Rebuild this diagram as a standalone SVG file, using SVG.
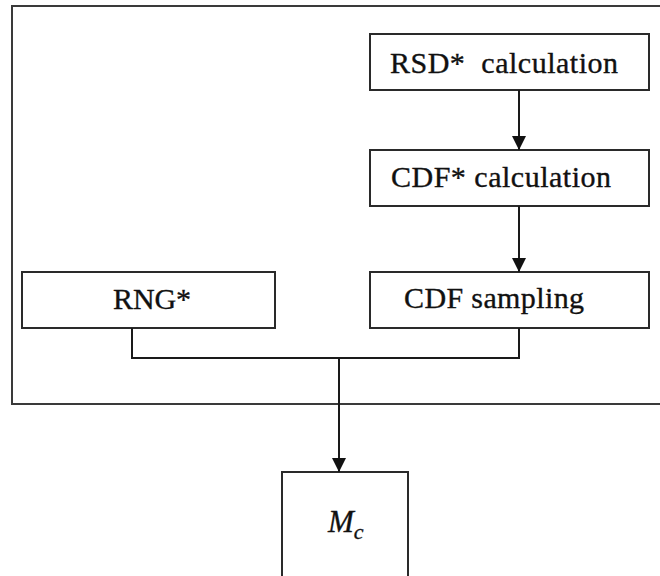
<svg xmlns="http://www.w3.org/2000/svg" width="660" height="576" viewBox="0 0 660 576">
  <defs>
    <style>
      .frame { fill: none; stroke: #3a3a3a; stroke-width: 2; }
      .box { fill: #ffffff; stroke: #2a2a2a; stroke-width: 2; }
      .wire { fill: none; stroke: #1a1a1a; stroke-width: 2; }
      text { font-family: 'Liberation Serif', 'DejaVu Serif', serif; fill: #111111; stroke: #111111; stroke-width: 0.35; }
      .label { font-size: 30px; }
      .math { font-style: italic; }
    </style>
    <marker id="arrow" viewBox="0 0 14 14" markerWidth="14" markerHeight="14" refX="14" refY="7" orient="auto" markerUnits="userSpaceOnUse">
      <path d="M0,0 L14,7 L0,14 Z" fill="#111111"/>
    </marker>
  </defs>

  <rect width="660" height="576" fill="#ffffff"/>

  <!-- enclosing frame (open on the right) -->
  <rect class="frame" x="12" y="6" width="700" height="398"/>

  <g id="rsd-calculation">
    <rect class="box" x="370" y="34" width="279" height="56"/>
    <text class="label" x="390" y="73" textLength="228" xml:space="preserve">RSD*  calculation</text>
  </g>

  <g id="cdf-calculation">
    <rect class="box" x="370" y="150" width="279" height="56"/>
    <text class="label" x="391" y="187" textLength="220">CDF* calculation</text>
  </g>

  <g id="rng">
    <rect class="box" x="22" y="272" width="253" height="56"/>
    <text class="label" x="113" y="309" textLength="78">RNG*</text>
  </g>

  <g id="cdf-sampling">
    <rect class="box" x="370" y="272" width="279" height="56"/>
    <text class="label" x="404" y="308" textLength="180">CDF sampling</text>
  </g>

  <g id="mc">
    <rect class="box" x="282" y="472" width="126" height="120"/>
    <text class="math" x="328" y="532" font-size="31">M<tspan font-size="22" dy="7">c</tspan></text>
  </g>

  <g id="connectors">
    <line class="wire" x1="519" y1="90" x2="519" y2="150" marker-end="url(#arrow)"/>
    <line class="wire" x1="519" y1="206" x2="519" y2="272" marker-end="url(#arrow)"/>
    <polyline class="wire" points="132,328 132,358 519,358 519,328"/>
    <line class="wire" x1="339" y1="358" x2="339" y2="472" marker-end="url(#arrow)"/>
  </g>
</svg>
